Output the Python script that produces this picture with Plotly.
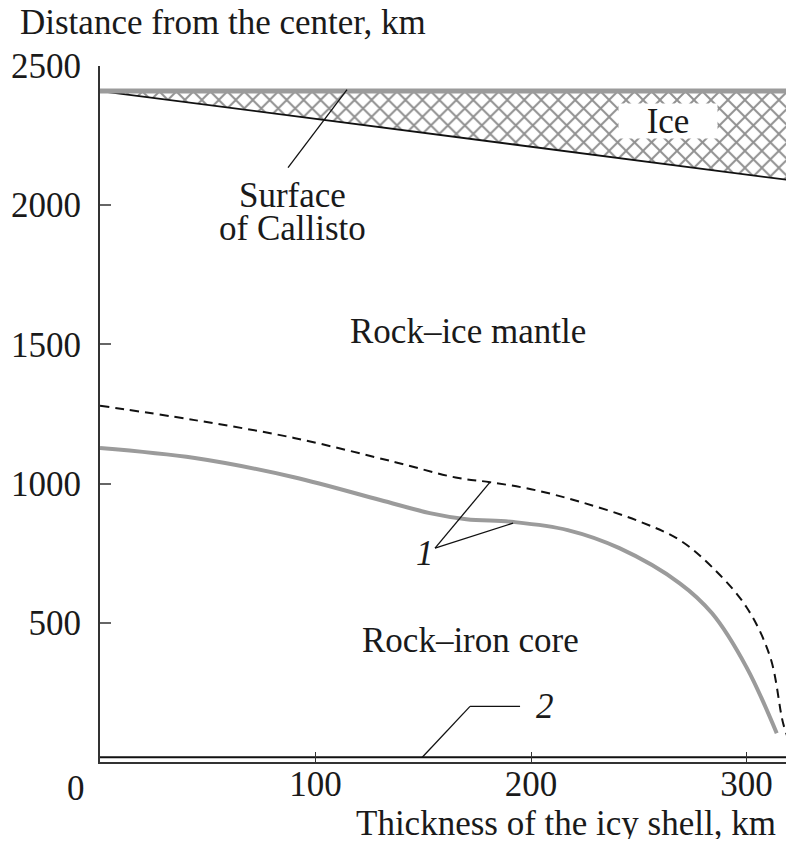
import plotly.graph_objects as go

# ---- data ----
surface_radius = 2410          # km
shell_x = [0, 320]             # thickness of icy shell, km
mantle_top = [surface_radius - t for t in shell_x]

dash_x = [0, 44, 90, 137, 165, 181, 200, 223, 250, 269, 284, 300, 311, 317, 320]
dash_y = [1280, 1228, 1164, 1077, 1022, 1005, 980, 934, 865, 797, 700, 556, 376, 138, 70]

core_x = [0, 44, 90, 130, 153, 170, 192, 217, 241, 269, 284, 300, 314]
core_y = [1128, 1092, 1023, 941, 894, 872, 862, 833, 768, 642, 534, 340, 103]

line2_x = [0, 320]
line2_y = [17, 17]

x_ticks = [100, 200, 300]
y_ticks = [500, 1000, 1500, 2000, 2500]

FONT = "Liberation Serif"
TXT = "#1a1a1a"
FS = 35

fig = go.Figure()

# ice shell (hatched)
fig.add_trace(go.Scatter(
    x=shell_x + shell_x[::-1],
    y=mantle_top + [surface_radius, surface_radius],
    fill="toself", mode="lines", line=dict(width=0, color="rgba(0,0,0,0)"),
    fillpattern=dict(shape="x", size=12, solidity=0.3, fgcolor="#222", bgcolor="white"),
    fillcolor="white", hoverinfo="skip", showlegend=False))
# mantle top boundary
fig.add_trace(go.Scatter(x=shell_x, y=mantle_top, mode="lines",
                         line=dict(color="#111", width=1.8), showlegend=False))
# surface of Callisto (gray)
fig.add_trace(go.Scatter(x=shell_x, y=[surface_radius, surface_radius], mode="lines",
                         line=dict(color="#9b9b9b", width=5), showlegend=False))
# dashed curve 1
fig.add_trace(go.Scatter(x=dash_x, y=dash_y, mode="lines", line_shape="spline",
                         line=dict(color="#111", width=2, dash="9px,6px"), showlegend=False))
# solid gray curve 1
fig.add_trace(go.Scatter(x=core_x, y=core_y, mode="lines", line_shape="spline",
                         line=dict(color="#9b9b9b", width=4), showlegend=False))
# line 2
fig.add_trace(go.Scatter(x=line2_x, y=line2_y, mode="lines",
                         line=dict(color="#111", width=2), showlegend=False))

def px2d(px, py):
    return (px - 100) / 2.155, (761.5 - py) / 0.278

def leader(p0, p1):
    x0, y0 = px2d(*p0)
    x1, y1 = px2d(*p1)
    fig.add_shape(type="line", x0=x0, y0=y0, x1=x1, y1=y1, xref="x", yref="y",
                  line=dict(color="#111", width=1.3))

leader((288, 168), (347, 90))
leader((422, 757), (470, 706))
leader((470, 706), (520, 706))
leader((435, 548), (490, 482))
leader((435, 548), (513, 523))

def text(px, py, s, size=FS, xanchor="center", **kw):
    x, y = px2d(px, py)
    fig.add_annotation(x=x, y=y, xref="x", yref="y", text=s, showarrow=False,
                       xanchor=xanchor, yanchor="middle",
                       font=dict(family=FONT, size=size, color=TXT), **kw)

text(292, 195, "Surface", height=30)
text(292, 228, "of Callisto", height=30)
text(468, 332, "Rock–ice mantle")
text(470, 640, "Rock–iron core")
text(668, 121, "Ice", bgcolor="white", width=96, height=32)
text(545, 706, "<i>2</i>")
text(425, 553, "<i>1</i>")

# axis titles and the lone 0
fig.add_annotation(xref="paper", yref="paper", x=0, y=1, xshift=-82, yshift=44,
                   xanchor="left", yanchor="middle", showarrow=False,
                   text="Distance from the center, km",
                   font=dict(family=FONT, size=FS, color=TXT))
fig.add_annotation(xref="paper", yref="paper", x=1, y=0, xshift=-8, yshift=-61,
                   xanchor="right", yanchor="middle", showarrow=False,
                   text="Thickness of the icy shell, km", height=32,
                   font=dict(family=FONT, size=FS, color=TXT))
fig.add_annotation(xref="paper", yref="paper", x=0, y=0, xshift=-24, yshift=-26,
                   xanchor="center", yanchor="middle", showarrow=False, text="0",
                   font=dict(family=FONT, size=FS, color=TXT))

fig.update_layout(
    width=786, height=841,
    margin=dict(l=100, r=0, t=66, b=79),
    paper_bgcolor="white", plot_bgcolor="white",
    showlegend=False,
    xaxis=dict(range=[0, 318.3], tickvals=x_ticks, ticks="inside", ticklen=10,
               tickwidth=1.2, tickcolor="#333", showline=True, linecolor="#333",
               linewidth=1.5, showgrid=False, zeroline=False,
               tickfont=dict(family=FONT, size=FS, color=TXT), ticklabelstandoff=-10),
    yaxis=dict(range=[0, 2500], tickvals=y_ticks, ticks="inside", ticklen=11,
               tickwidth=1.5, tickcolor="#666", showline=True, linecolor="#333",
               linewidth=2, showgrid=False, zeroline=False,
               tickfont=dict(family=FONT, size=FS, color=TXT), ticklabelstandoff=10),
)

fig.write_html("out.html", config={"displayModeBar": False},
               post_script="document.body.style.margin='0';document.body.style.overflow='hidden';")
